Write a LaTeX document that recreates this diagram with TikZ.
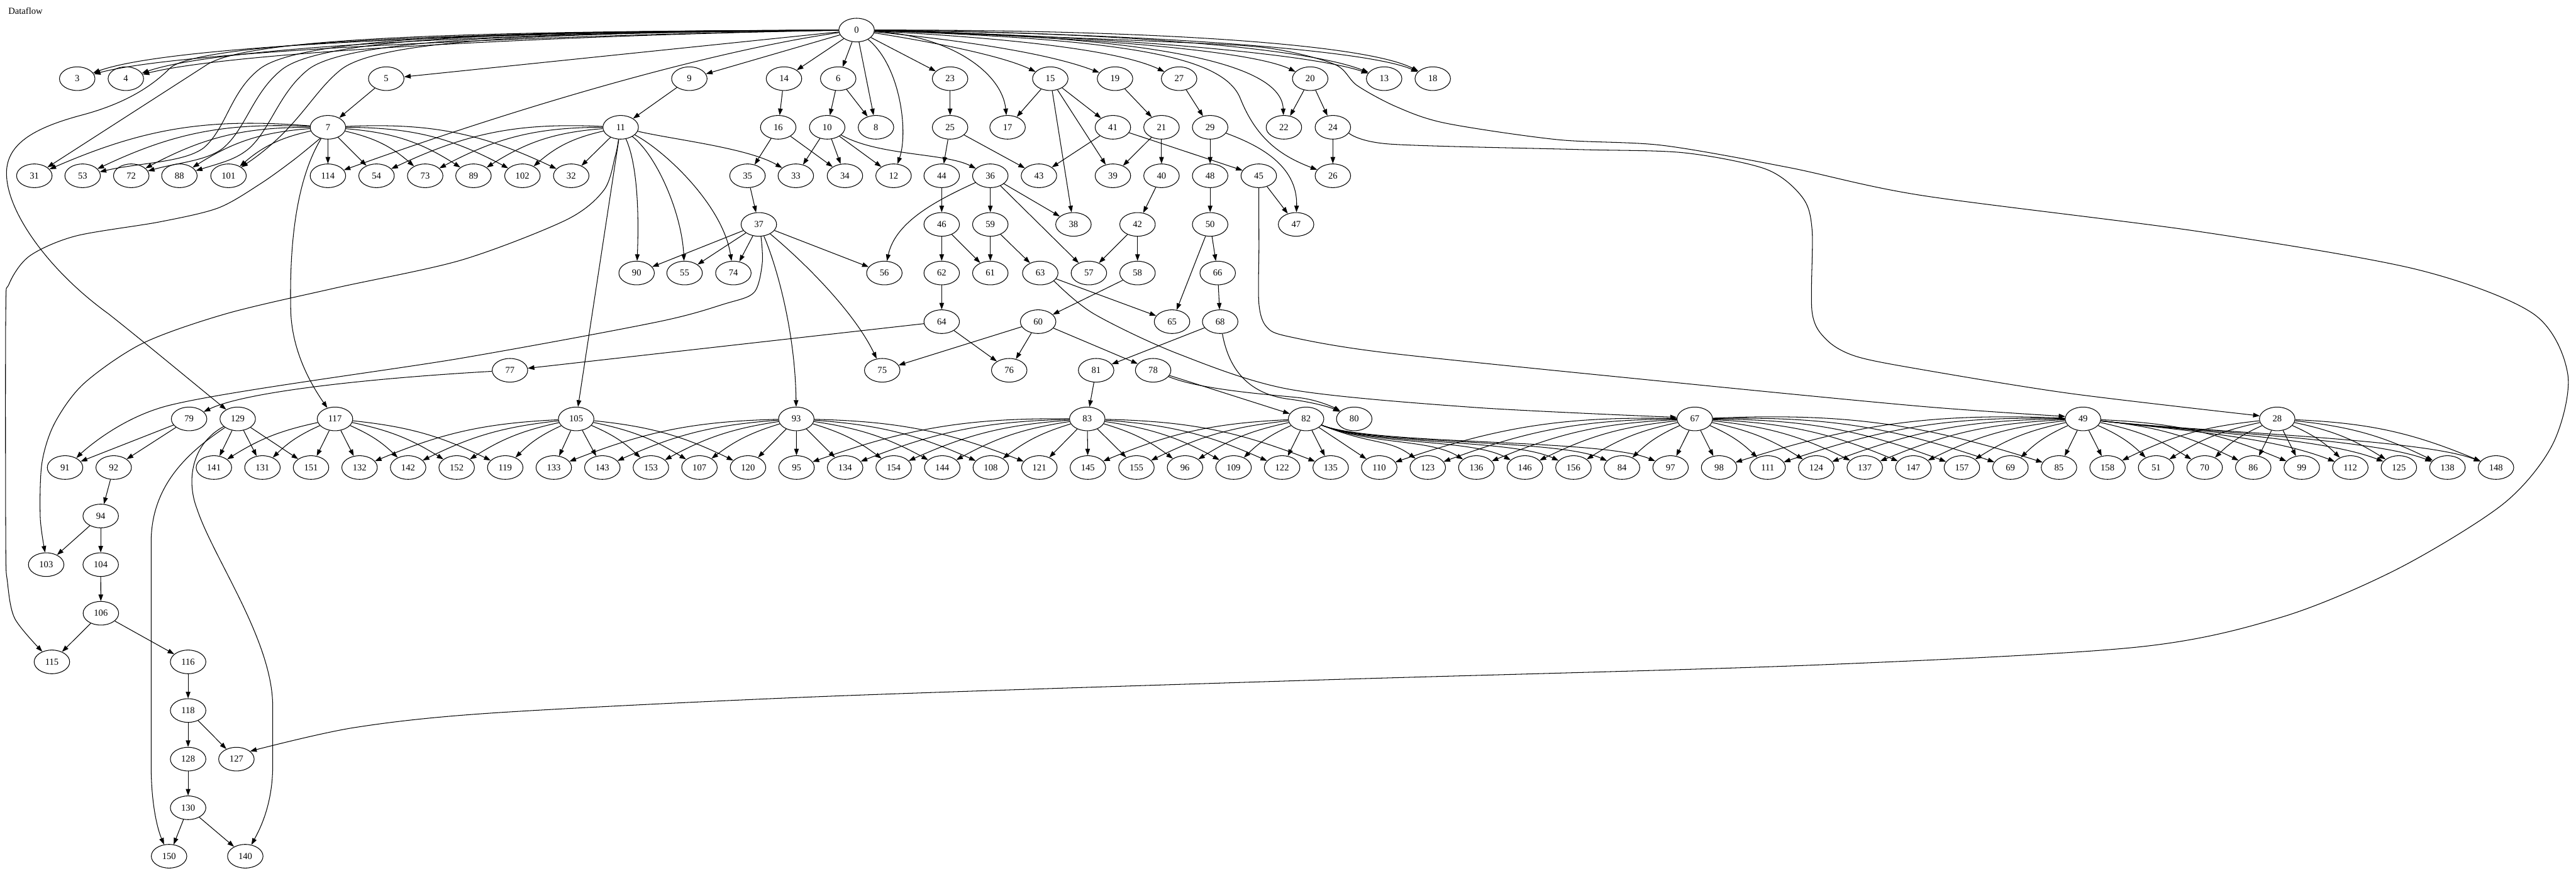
\documentclass[tikz,border=0pt]{standalone}
\usepackage{fontspec}
\setmainfont{Liberation Serif}
\usetikzlibrary{arrows.meta,shapes.geometric}
\begin{document}
\begin{tikzpicture}[x=2.5pt,y=-2.5pt,
  nd/.style={draw, ellipse, line width=1pt, minimum width=54pt, minimum height=36pt, inner sep=0pt, font=\fontsize{14pt}{16pt}\selectfont},
  arr/.style={line width=1pt, -{Triangle[length=10pt,width=7pt]}},
  bl/.style={bend left=10}, br/.style={bend right=10},
  bbl/.style={bend left=14}, bbr/.style={bend right=14}]
\useasboundingbox (0,0) rectangle (1568,530);
\fill[white] (0,0) rectangle (1568,530);
\node[anchor=base west, inner sep=0pt, font=\fontsize{14pt}{16pt}\selectfont] (title) at (5,8.5) {Dataflow};
% ---------------- nodes
\node[nd] (n0) at (521.4,18.3) {0};
\foreach \n/\x in {3/47.0,4/76.6,5/235.1,9/419.6,14/477.2,6/510.2,23/578.3,15/639.3,19/678.7,27/717.7,20/797.5,13/842.5,18/872.1}
  \node[nd] (n\n) at (\x,47.9) {\n};
\foreach \n/\x in {7/199.6,11/377.8,16/473.7,10/503.5,8/533.2,25/578.3,17/613.3,41/677.4,21/707.0,29/736.6,22/781.5,24/811.3}
  \node[nd] (n\n) at (\x,77.5) {\n};
\foreach \n/\x in {31/20.9,53/50.3,72/79.9,88/109.2,101/139.1,114/199.6,54/229.2,73/258.8,89/288.2,102/318.0,32/347.7,35/455.0,33/484.4,34/514.3,12/543.9,44/573.2,36/602.8,43/632.4,39/677.4,40/707.0,48/736.6,45/766.2,26/811.3}
  \node[nd] (n\n) at (\x,107.0) {\n};
\foreach \n/\x in {37/461.9,46/573.2,59/602.8,38/653.4,42/692.4,50/736.6,47/788.9}
  \node[nd] (n\n) at (\x,136.6) {\n};
\foreach \n/\x in {90/387.5,55/416.7,74/446.4,56/538.3,62/573.2,61/602.8,63/633.2,57/662.8,58/692.4,66/741.2}
  \node[nd] (n\n) at (\x,166.2) {\n};
\foreach \n/\x in {64/573.2,60/631.9,65/713.4,68/742.7}
  \node[nd] (n\n) at (\x,195.8) {\n};
\foreach \n/\x in {77/310.4,75/537.0,76/614.3,81/667.2,78/701.9}
  \node[nd] (n\n) at (\x,225.4) {\n};
\foreach \n/\x in {79/115.1,129/144.7,117/203.9,105/350.7,93/484.7,83/661.8,82/795.0,80/824.3,67/1031.6,49/1267.9,28/1386.1}
  \node[nd] (n\n) at (\x,255.0) {\n};
\foreach \n/\x in {91/39.6,92/69.2}
  \node[nd] (n\n) at (\x,284.6) {\n};
\foreach \n [count=\k from 0] in {141,131,151,132,142,152,119,133,143,153,107,120,95,134,154,144,108,121,145,155,96,109,122,135,110,123,136,146,156,84,97,98,111,124,137,147,157,69,85,158,51,70,86,99,112,125,138,148}
  \node[nd] (n\n) at ({130.2+29.555*\k},284.6) {\n};
\node[nd] (n94) at (61.3,314.1) {94};
\node[nd] (n103) at (28.1,343.7) {103};
\node[nd] (n104) at (61.3,343.7) {104};
\node[nd] (n106) at (61.4,373.3) {106};
\node[nd] (n115) at (31.6,402.9) {115};
\node[nd] (n116) at (114.5,402.9) {116};
\node[nd] (n118) at (114.5,432.5) {118};
\node[nd] (n128) at (114.5,462.1) {128};
\node[nd] (n127) at (143.9,462.1) {127};
\node[nd] (n130) at (114.5,491.7) {130};
\node[nd] (n150) at (102.9,521.2) {150};
\node[nd] (n140) at (149.3,521.2) {140};
% ---------------- straight edges
\foreach \a/\b in {0/5,0/9,0/14,0/6,0/8,0/23,
  5/7,9/11,14/16,6/10,6/8,23/25,15/17,15/38,15/39,15/41,19/21,27/29,20/22,20/24,
  11/105,16/35,16/34,10/33,10/34,10/12,25/44,25/43,41/43,41/45,21/39,21/40,29/48,24/26,
  7/114,7/54,11/32,35/37,44/46,36/59,36/57,36/38,40/42,48/50,45/47,
  37/90,37/55,37/74,37/56,46/62,46/61,59/61,59/63,42/57,42/58,50/65,50/66,
  62/64,63/65,58/60,66/68,64/77,64/76,60/75,60/76,60/78,68/81,81/83,78/82,
  79/91,79/92,129/141,129/131,129/151,117/151,117/132,105/143,105/133,93/120,93/95,93/134,
  83/121,83/145,83/155,82/122,82/135,82/110,67/97,67/98,49/85,49/158,28/86,28/99,
  92/94,94/103,94/104,104/106,106/115,106/116,116/118,118/128,118/127,128/130,130/150,130/140}
  \draw[arr] (n\a) -- (n\b);
% ---------------- fans bending
\foreach \a/\b in {7/73,7/89,7/102,7/32}
  \draw[arr] (n\a) to[bbl] (n\b);
\foreach \a/\b in {7/31,7/53,7/72,7/88,7/101,11/54,11/73,11/89,11/102}
  \draw[arr] (n\a) to[bbr] (n\b);
\foreach \a/\b in {117/142,117/152,117/119,105/153,105/107,105/120,
  93/154,93/144,93/108,93/121,83/96,83/109,83/122,83/135,
  67/111,67/124,67/137,67/147,67/157,67/69,67/85,
  49/51,49/70,49/86,49/99,28/112,28/125,28/138,28/148}
  \draw[arr] (n\a) to[bl] (n\b);
\foreach \a/\b in {117/141,117/131,105/132,105/142,105/152,105/119,
  93/133,93/143,93/153,93/107,83/95,83/134,83/154,83/144,83/108,
  82/145,82/155,82/96,82/109,67/110,67/123,67/136,67/146,67/156,67/84,
  49/98,49/111,49/124,49/137,49/147,49/157,49/69,28/158,28/51,28/70}
  \draw[arr] (n\a) to[br] (n\b);
\foreach \b/\c in {123/845,136/870,146/895,156/920,84/948,97/975}
  \draw[arr] (n82) .. controls (835,271) and (\c,267) .. (n\b);
\foreach \b/\c in {112/1385,125/1415,138/1444,148/1474}
  \draw[arr] (n49) .. controls (1340,263) and (\c,267) .. (n\b);
% ---------------- curved edges from 0 (left)
\draw[arr] (n0) .. controls (350,19) and (110,25) .. (n3);
\draw[arr] (n0) .. controls (350,21) and (113,30) .. (n3);
\draw[arr] (n0) .. controls (360,19) and (140,26) .. (n4);
\draw[arr] (n0) .. controls (360,21) and (143,31) .. (n4);
\draw[arr] (n0) .. controls (300,19) and (150,22) .. (125,40) -- (n31);
\draw[arr] (n0) .. controls (300,19) and (125,25) .. (104,41) .. controls (95,50) and (80,62) .. (50,70) .. controls (20,78) and (3,88) .. (4,107) .. controls (5,130) and (30,165) .. (66,191) .. controls (90,210) and (120,235) .. (n129);
\draw[arr] (n0) .. controls (330,19) and (185,21) .. (158,42) .. controls (140,56) and (138,78) .. (124,90) .. controls (112,99) and (85,99) .. (n53);
\draw[arr] (n0) .. controls (340,19) and (200,21) .. (172,42) .. controls (154,56) and (150,78) .. (136,90) .. controls (126,98) and (108,99) .. (n72);
\draw[arr] (n0) .. controls (350,20) and (215,22) .. (188,42) .. controls (170,56) and (165,78) .. (152,90) .. controls (144,97) and (135,99) .. (n88);
\draw[arr] (n0) .. controls (360,20) and (235,22) .. (208,42) .. controls (190,56) and (182,78) .. (n101);
\draw[arr] (n0) .. controls (440,30) and (330,60) .. (n114);
% ---------------- curved edges from 0 (right)
\draw[arr] (n0) .. controls (570,26) and (610,34) .. (n15);
\draw[arr] (n0) .. controls (590,25) and (640,33) .. (n19);
\draw[arr] (n0) .. controls (610,23) and (680,30) .. (n27);
\draw[arr] (n0) .. controls (650,22) and (760,30) .. (n20);
\draw[arr] (n0) .. controls (700,22) and (780,38) .. (n22);
\draw[arr] (n0) .. controls (690,24) and (745,35) .. (755,60) .. controls (765,85) and (780,95) .. (n26);
\draw[arr] (n0) .. controls (650,19) and (790,27) .. (n13);
\draw[arr] (n0) .. controls (650,21) and (792,31) .. (n13);
\draw[arr] (n0) .. controls (690,18) and (830,26) .. (n18);
\draw[arr] (n0) .. controls (690,20) and (832,30) .. (n18);
\draw[arr] (n0) .. controls (548,40) and (553,80) .. (n12);
\draw[arr] (n0) .. controls (580,22) and (610,45) .. (n17);
\draw[arr] plot[smooth] coordinates {(n0.east) (600,21) (700,25) (770,29) (812,39) (826,52) (850,65) (880,75) (948,85) (1012,88.5) (1089,102) (1170,119) (1339,141) (1471,164) (1542,191) (1563,228) (1554,270) (1524,306.5) (1460,346) (1389,375.6) (1300,394) (1100,405) (800,414) (500,424) (300,434) (215,443) (n127.30)};
% ---------------- other curved edges
\draw[arr] (n7) .. controls (180,110) and (176,150) .. (177,190) .. controls (178,215) and (190,235) .. (n117);
\draw[arr] plot[smooth] coordinates {(n7.235) (178.7,97.4) (158.3,112) (132.8,126.6) (97,135.1) (45.9,143.7) (17.9,155.9) (5.5,172.9) (3.5,191) (3.5,330) (4.5,354) (9,376.5) (n115.133)};
\draw[arr] plot[smooth] coordinates {(n11.-100) (374.5,95) (367.6,115.7) (344.6,133.9) (280.9,158.3) (204.2,175.3) (137.9,190.9) (86.8,209) (51,233.5) (33.2,257.7) (25.5,282) (24.5,315) (n103.95)};
\draw[arr] (n11) .. controls (388,100) and (389,130) .. (n90);
\draw[arr] (n11) .. controls (400,95) and (415,130) .. (n55);
\draw[arr] (n11) .. controls (405,92) and (440,125) .. (n74);
\draw[arr] (n11) .. controls (410,85) and (455,90) .. (n33);
\draw[arr] (n10) .. controls (535,95) and (575,93) .. (n36);
\draw[arr] (n29) .. controls (765,88) and (790,100) .. (n47);
\draw[arr] (n36) .. controls (570,122) and (545,135) .. (n56);
\draw[arr] (n37) .. controls (472,160) and (484,200) .. (n93);
\draw[arr] (n37) .. controls (490,160) and (520,190) .. (n75);
\draw[arr] plot[smooth] coordinates {(n37.-80) (464,160) (459,178) (441,185) (400,196) (281,218) (102,247) (n91.40)};
\draw[arr] plot[smooth] coordinates {(n45.south) (766.3,150) (766.3,185) (771,199) (785,205) (846,215) (1025,233.4) (1170,247.4) (n49.172)};
\draw[arr] plot[smooth] coordinates {(n24.-20) (846,87.7) (960,91) (1025,93) (1075,103) (1097,120) (1103,140) (1103,190) (1112,207) (1130,217) (1170,225) (1260,239.5) (n28.170)};
\draw[arr] plot[smooth] coordinates {(n63.-30) (665.6,190.9) (716.7,215.2) (785,237) (897.4,248) (n67.175)};
\draw[arr] (n68) .. controls (748,225) and (760,240) .. (785,243) .. controls (800,245) and (810,248) .. (n80);
\draw[arr] (n78) .. controls (730,237) and (770,240) .. (790,242) .. controls (800,243) and (810,247) .. (n80);
\draw[arr] (n77) .. controls (230,230) and (150,238) .. (n79);
\draw[arr] (n129) .. controls (115,275) and (92,295) .. (92,330) -- (92,466) .. controls (92,490) and (96,505) .. (n150);
\draw[arr] (n129) .. controls (117,270) and (113,292) .. (120,310) .. controls (130,340) and (166,390) .. (166,430) -- (166,466) .. controls (166,490) and (158,505) .. (n140);
\end{tikzpicture}
\end{document}
